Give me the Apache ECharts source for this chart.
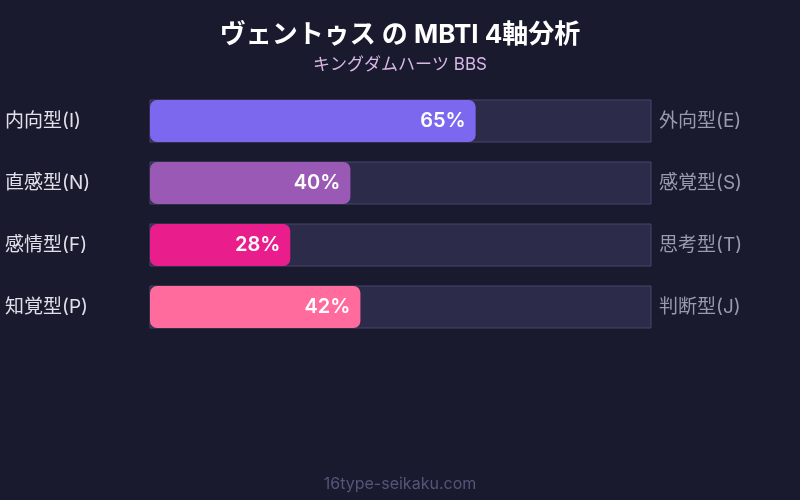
<!DOCTYPE html>
<html style="height: 100%" lang="ja">
<head>
    <meta charset="utf-8">
    <script type="text/javascript" src="https://cdn.jsdelivr.net/npm/echarts@6/dist/echarts.min.js"></script>
</head>
<body style="height: 100%; margin: 0; background: #1a1a2e">
<div id="container" style="width: 800px; height: 500px"></div>
<script type="text/javascript">
    var leftLabels = ['内向型(I)', '直感型(N)', '感情型(F)', '知覚型(P)'];
    var rightLabels = ['外向型(E)', '感覚型(S)', '思考型(T)', '判断型(J)'];
    var values = [65, 40, 28, 42];
    var barColors = ['#7b68ee', '#9b59b6', '#e91e8c', '#ff6b9d'];

    var myChart = echarts.init(document.getElementById('container'));
    var font = 'Inter, "Noto Sans CJK JP", sans-serif';

    var option = {
        backgroundColor: '#1a1a2e',
        textStyle: { fontFamily: font },
        title: {
            text: 'ヴェントゥス の MBTI 4軸分析',
            subtext: 'キングダムハーツ BBS',
            left: 'center',
            top: 17,
            itemGap: 8,
            textStyle: { color: '#ffffff', fontSize: 26, fontWeight: 'bold', fontFamily: font },
            subtextStyle: { color: '#d9b8e8', fontSize: 17, fontFamily: font }
        },
        graphic: [{
            type: 'text',
            left: 'center',
            top: 476,
            style: { text: '16type-seikaku.com', fill: '#55557a', fontSize: 16, fontFamily: font }
        }],
        grid: { left: 150, right: 149, top: 90, bottom: 162 },
        xAxis: {
            type: 'value',
            min: 0,
            max: 100,
            show: false
        },
        yAxis: [{
            type: 'category',
            data: leftLabels,
            inverse: true,
            axisLine: { show: false },
            axisTick: { show: false },
            axisLabel: {
                align: 'left',
                margin: 145,
                color: '#e0e0ea',
                fontSize: 19,
                fontFamily: font
            }
        }, {
            type: 'category',
            data: rightLabels,
            inverse: true,
            position: 'right',
            axisLine: { show: false },
            axisTick: { show: false },
            axisLabel: {
                margin: 8,
                color: '#9a9aae',
                fontSize: 19,
                fontFamily: font
            }
        }],
        series: [{
            type: 'bar',
            barWidth: 42,
            data: values.map(function (v, i) {
                return { value: v, itemStyle: { color: barColors[i] } };
            }),
            itemStyle: { borderRadius: 7 },
            showBackground: true,
            backgroundStyle: {
                color: '#2d2b4a',
                borderColor: '#47456b',
                borderWidth: 1
            },
            label: {
                show: true,
                position: 'insideRight',
                distance: 10,
                formatter: '{c}%',
                color: '#ffffff',
                fontSize: 20,
                fontWeight: 600,
                fontFamily: font
            }
        }]
    };

    myChart.setOption(option);
</script>
</body>
</html>
